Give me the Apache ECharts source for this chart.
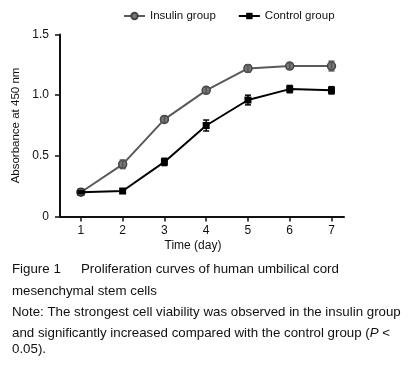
<!DOCTYPE html>
<html>
<head>
<meta charset="utf-8">
<script src="https://cdn.jsdelivr.net/npm/echarts@6/dist/echarts.min.js"></script>
<style>
  html, body { margin: 0; padding: 0; background: #fff; }
  #chart { width: 416px; height: 365px; }
</style>
</head>
<body>
<div id="chart"></div>
<script>
// data
var days = [1, 2, 3, 4, 5, 6, 7];
var insulinMean = [0.20, 0.43, 0.80, 1.04, 1.22, 1.24, 1.24];
var insulinSd   = [0.02, 0.035, 0.025, 0.025, 0.03, 0.025, 0.04];
var controlMean = [0.20, 0.21, 0.45, 0.75, 0.96, 1.05, 1.04];
var controlSd   = [0.01, 0.01, 0.03, 0.045, 0.04, 0.03, 0.03];
var yTicks = [0, 0.5, 1.0, 1.5];

var font = 'Arial, "Liberation Sans", sans-serif';
var capFont = '13.3px ' + font;
var myChart = echarts.init(document.getElementById('chart'));

function pairs(xs, ys) {
  return xs.map(function (x, i) { return [x, ys[i]]; });
}
function errData(xs, m, sd) {
  return xs.map(function (x, i) { return [x, m[i] - sd[i], m[i] + sd[i]]; });
}
// 误差线
function errSeries(name, data, color) {
  return {
    name: name,
    type: 'custom',
    z: 5,
    silent: true,
    data: data,
    renderItem: function (params, api) {
      var lo = api.coord([api.value(0), api.value(1)]);
      var hi = api.coord([api.value(0), api.value(2)]);
      var w = 3;
      var st = { stroke: color, lineWidth: 1.5 };
      return {
        type: 'group',
        children: [
          { type: 'line', shape: { x1: lo[0], y1: lo[1], x2: hi[0], y2: hi[1] }, style: st },
          { type: 'line', shape: { x1: lo[0] - w, y1: lo[1], x2: lo[0] + w, y2: lo[1] }, style: st },
          { type: 'line', shape: { x1: hi[0] - w, y1: hi[1], x2: hi[0] + w, y2: hi[1] }, style: st }
        ]
      };
    }
  };
}

var option = {
  animation: false,
  backgroundColor: '#fff',
  legend: {
    top: 5,
    left: 118,
    itemWidth: 21,
    itemHeight: 8,
    itemGap: 22,
    data: ['Insulin group', 'Control group'],
    textStyle: { fontFamily: font, fontSize: 11.5, color: '#111' }
  },
  grid: { left: 60, right: 72, top: 34.5, bottom: 148.5, containLabel: false },
  xAxis: {
    type: 'value',
    min: 0.5,
    max: 7.3,
    name: 'Time (day)',
    nameLocation: 'middle',
    nameGap: 23,
    nameTextStyle: { fontFamily: font, fontSize: 12, color: '#111', padding: [0, 18, 0, 0] },
    axisLine: { lineStyle: { color: '#111', width: 2 } },
    axisTick: { show: true, length: 5, lineStyle: { color: '#111', width: 1.5 }, customValues: days },
    axisLabel: { fontFamily: font, fontSize: 12, color: '#111', margin: 8, customValues: days },
    splitLine: { show: false }
  },
  yAxis: {
    type: 'value',
    min: 0,
    max: 1.5,
    interval: 0.5,
    name: 'Absorbance at 450 nm',
    nameLocation: 'middle',
    nameGap: 29,
    nameTextStyle: { fontFamily: font, fontSize: 11.5, color: '#111' },
    axisLine: { show: true, lineStyle: { color: '#111', width: 2 } },
    axisTick: { show: true, length: 5, lineStyle: { color: '#111', width: 1.5 } },
    axisLabel: {
      fontFamily: font, fontSize: 12, color: '#111', margin: 11,
      customValues: yTicks,
      formatter: function (v) { return v === 0 ? '0' : v.toFixed(1); }
    },
    splitLine: { show: false }
  },
  series: [
    {
      name: 'Insulin group',
      type: 'line',
      data: pairs(days, insulinMean),
      symbol: 'circle',
      symbolSize: 8,
      lineStyle: { color: '#5a5a5a', width: 2 },
      itemStyle: { color: '#777', borderColor: '#444', borderWidth: 1.5 },
      z: 3
    },
    {
      name: 'Control group',
      type: 'line',
      data: pairs(days, controlMean),
      symbol: 'rect',
      symbolSize: 7,
      lineStyle: { color: '#000', width: 2 },
      itemStyle: { color: '#000' },
      z: 4
    },
    errSeries('insulinErr', errData(days, insulinMean, insulinSd), '#555'),
    errSeries('controlErr', errData(days, controlMean, controlSd), '#000')
  ],
  graphic: [
    { type: 'text', left: 12, top: 263, style: { text: 'Figure 1', font: capFont, fill: '#111' } },
    { type: 'text', left: 81, top: 263, style: { text: 'Proliferation curves of human umbilical cord', font: capFont, fill: '#111' } },
    { type: 'text', left: 12, top: 284.8, style: { text: 'mesenchymal stem cells', font: capFont, fill: '#111' } },
    { type: 'text', left: 12, top: 306.2, style: { text: 'Note: The strongest cell viability was observed in the insulin group', font: capFont, fill: '#111' } },
    {
      type: 'text', left: 12, top: 326.8,
      style: {
        text: 'and significantly increased compared with the control group ({i|P} <',
        font: capFont, fill: '#111',
        rich: { i: { fontStyle: 'italic', fontFamily: font, fontSize: 13.3 } }
      }
    },
    { type: 'text', left: 12, top: 342.5, style: { text: '0.05).', font: capFont, fill: '#111' } }
  ]
};

myChart.setOption(option);
</script>
</body>
</html>
